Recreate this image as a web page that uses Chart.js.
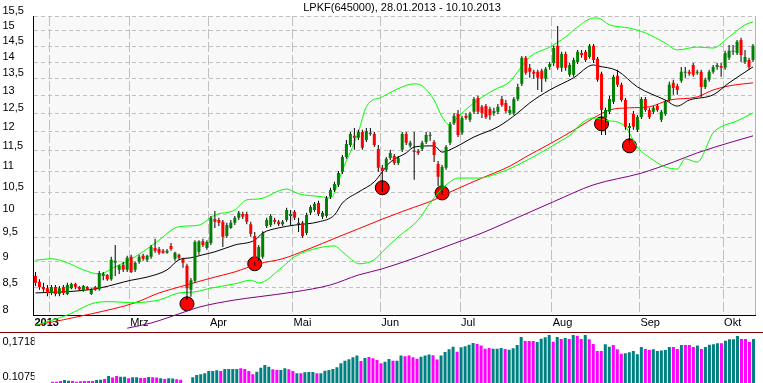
<!DOCTYPE html>
<html><head><meta charset="utf-8">
<script src="https://cdn.jsdelivr.net/npm/chart.js@4.4.0/dist/chart.umd.min.js"></script>
<style>
html,body{margin:0;padding:0;background:#fff;}
#wrap{position:relative;width:763px;height:383px;overflow:hidden;background:#fff;}
#pc{position:absolute;left:0;top:0;}
#vsep{position:absolute;left:0;top:332px;width:763px;height:1px;background:#800000;}
#vc{position:absolute;left:0;top:333px;}
#title{position:absolute;left:0;top:1px;width:804px;text-align:center;font:11px "Liberation Sans",Arial,sans-serif;color:#000;white-space:nowrap;}
</style></head>
<body><div id="wrap">
<canvas id="pc" width="763" height="332"></canvas>
<div id="vsep"></div>
<canvas id="vc" width="763" height="50"></canvas>
<div id="title">LPKF(645000), 28.01.2013 - 10.10.2013</div>
</div>
<script>
// ---- categories / ticks ----
const monthStart = [0, 4, 24, 44, 65, 87, 107, 130, 152, 173];
const monthLabels = ['2013', '', 'Mrz', 'Apr', 'Mai', 'Jun', 'Jul', 'Aug', 'Sep', 'Okt'];
const priceTicks = [8, 8.5, 9, 9.5, 10, 10.5, 11, 11.5, 12, 12.5, 13, 13.5, 14, 14.5, 15, 15.5];
const volTicks = [0.1075, 0.1718];
const volTickLabels = ['0.1075', '0,1718'];

// ---- candles (trading days 28.01.2013 - 10.10.2013) ----
const opens = [
8.72,8.61,8.51,8.49,8.40,8.51,8.38,8.51,8.38,8.49,
8.57,8.51,8.44,8.51,8.38,8.51,8.47,8.72,8.74,8.66,
8.98,8.84,8.94,8.84,9.10,8.84,9.00,9.12,9.04,9.10,
9.28,9.26,9.22,9.18,9.32,9.06,9.14,9.06,8.92,8.46,
8.63,9.20,9.42,9.28,9.38,9.89,9.87,9.83,9.53,9.70,
9.81,9.92,10.00,10.00,9.78,9.53,9.08,9.10,9.74,9.76,
9.87,9.83,9.78,9.87,9.96,10.05,9.78,9.81,9.59,10.03,
10.09,10.25,9.94,9.96,10.39,10.55,10.67,10.98,11.35,11.65,
11.89,11.84,11.99,11.78,11.94,11.94,11.55,11.08,11.03,11.32,
11.37,11.20,11.53,11.94,11.63,11.50,11.50,11.55,11.73,11.89,
11.73,11.17,10.55,11.08,11.71,12.23,12.48,11.97,12.43,12.32,
12.54,12.93,12.68,12.70,12.62,12.51,12.54,12.90,12.79,12.51,
12.51,12.90,13.34,14.13,13.82,13.70,13.70,13.73,13.49,13.85,
13.97,14.51,13.82,14.25,13.61,13.61,14.00,14.28,14.32,14.16,
14.51,14.10,13.64,12.37,12.54,12.82,13.58,13.31,12.87,12.10,
12.48,12.05,12.40,12.90,12.59,12.54,12.70,12.32,12.48,12.87,
13.37,13.28,13.43,13.67,13.70,13.91,13.67,13.70,13.25,13.46,
13.70,13.85,13.88,13.82,14.13,14.32,14.28,14.70,14.00,14.06,
14.06];
const highs = [
8.80,8.66,8.59,8.55,8.55,8.55,8.53,8.55,8.59,8.59,
8.59,8.53,8.55,8.53,8.49,8.53,8.82,8.80,8.76,9.10,
9.34,8.94,9.00,9.12,9.14,9.00,9.14,9.16,9.14,9.34,
9.47,9.30,9.26,9.26,9.38,9.20,9.16,9.08,8.96,8.68,
9.44,9.44,9.47,9.44,9.96,10.07,9.92,9.87,9.81,9.87,
9.96,10.07,10.05,10.05,9.83,9.61,9.34,9.63,9.92,10.00,
9.92,9.87,9.87,10.14,10.09,10.09,9.92,9.85,10.03,10.20,
10.27,10.30,10.07,10.41,10.60,10.74,11.00,11.40,11.78,11.99,
12.10,12.05,12.05,12.10,12.10,11.99,11.65,11.15,11.35,11.53,
11.42,11.37,11.99,11.99,11.76,11.99,11.55,11.76,11.99,11.99,
11.78,11.25,11.15,11.65,12.26,12.51,12.59,12.43,12.51,12.54,
12.96,12.99,12.73,12.76,12.68,12.65,12.76,12.99,12.87,12.70,
12.96,13.34,14.19,14.19,13.94,13.76,13.76,13.79,13.85,14.00,
14.51,15.16,14.32,14.32,13.97,14.13,14.38,14.38,14.38,14.57,
14.57,14.16,13.70,12.65,12.99,13.61,13.76,13.37,12.93,12.23,
12.56,12.45,12.96,12.96,12.65,12.70,12.76,12.59,12.87,13.40,
13.46,13.34,13.85,13.85,13.76,13.97,13.76,13.76,13.52,13.76,
13.91,13.97,13.97,14.35,14.54,14.54,14.70,14.77,14.38,14.13,
14.57];
const lows = [
8.53,8.46,8.42,8.34,8.36,8.34,8.34,8.36,8.36,8.47,
8.47,8.44,8.42,8.46,8.36,8.44,8.44,8.64,8.63,8.63,
8.72,8.76,8.80,8.80,8.78,8.80,8.96,9.02,9.00,9.06,
9.18,9.14,9.16,9.16,9.22,9.02,9.04,8.88,8.27,8.33,
8.59,9.14,9.30,9.24,9.34,9.70,9.74,9.30,9.49,9.68,
9.76,9.87,9.89,9.78,9.51,8.92,9.02,9.06,9.70,9.72,
9.78,9.74,9.74,9.83,9.76,9.87,9.61,9.49,9.55,9.98,
10.05,9.96,9.89,9.92,10.34,10.50,10.62,10.93,11.30,11.60,
11.53,11.78,11.53,11.73,11.89,11.60,10.98,10.50,10.98,11.27,
11.15,11.15,11.47,11.65,11.58,10.79,11.40,11.50,11.68,11.76,
11.22,10.64,10.43,11.03,11.65,12.18,11.86,11.91,12.32,12.26,
12.48,12.48,12.37,12.34,12.32,12.43,12.48,12.68,12.51,12.45,
12.45,12.84,13.28,13.61,13.52,13.49,13.16,13.10,13.40,13.76,
13.88,13.76,13.70,13.73,13.55,13.55,13.94,14.13,14.00,14.10,
13.97,13.40,11.91,11.91,12.48,12.76,13.25,12.82,12.05,11.65,
12.05,11.99,12.34,12.54,12.34,12.48,12.54,12.26,12.43,12.82,
13.02,13.02,13.37,13.52,13.58,13.55,13.61,12.96,13.19,13.40,
13.64,13.76,13.55,13.76,14.06,14.22,14.22,14.00,13.94,13.76,
14.00];
const closes = [
8.59,8.51,8.47,8.40,8.51,8.38,8.49,8.40,8.55,8.57,
8.51,8.47,8.53,8.47,8.46,8.46,8.78,8.76,8.66,9.04,
9.02,8.92,8.84,9.08,8.80,8.98,9.10,9.06,9.12,9.30,
9.22,9.18,9.18,9.22,9.26,9.18,9.08,8.98,8.49,8.64,
9.40,9.42,9.34,9.40,9.92,9.83,9.81,9.51,9.76,9.81,
9.92,10.03,9.94,9.83,9.57,9.00,9.30,9.59,9.87,9.96,
9.83,9.78,9.83,10.09,10.00,9.92,9.81,9.53,9.98,10.16,
10.23,10.00,10.03,10.36,10.55,10.69,10.95,11.35,11.68,11.94,
11.84,11.99,11.58,12.02,11.97,11.65,11.08,11.00,11.30,11.45,
11.20,11.32,11.94,11.71,11.71,11.47,11.45,11.71,11.91,11.91,
11.40,10.86,11.10,11.60,12.18,12.43,11.91,12.37,12.37,12.48,
12.90,12.54,12.51,12.40,12.45,12.56,12.68,12.73,12.56,12.59,
12.90,13.25,14.13,13.67,13.70,13.64,13.52,13.49,13.79,13.94,
14.44,13.82,14.25,13.82,13.91,14.06,14.32,14.22,14.06,14.51,
14.06,13.46,12.59,12.59,12.90,13.55,13.31,12.87,12.13,12.15,
12.13,12.40,12.90,12.59,12.40,12.65,12.59,12.54,12.82,13.31,
13.22,13.16,13.70,13.70,13.64,13.61,13.70,13.25,13.46,13.70,
13.85,13.91,13.82,14.28,14.35,14.35,14.64,14.22,14.16,13.85,
14.51];

// ---- indicator lines (read at sampled trading-day indices) ----
const maIdx = [0,11,16,24,28,33,36,39,42,45,50,55,57,61,65,71,75,77,81,85,87,89,93,95,100,102,105,110,116,121,124,129,135,140,141,146,151,158,161,164,170,174,180];
const maVal = [8.40,8.44,8.49,8.64,8.70,8.84,9.04,9.08,9.14,9.20,9.34,9.44,9.59,9.70,9.76,9.83,9.98,10.25,10.50,10.74,10.98,11.22,11.45,11.60,11.63,11.47,11.58,11.86,12.13,12.51,12.79,13.16,13.52,13.91,13.88,13.73,13.25,12.87,12.70,12.87,13.02,13.37,13.85];
const upIdx = [0,4,8,12,16,20,25,31,35,38,41,45,50,53,56,63,66,72,74,76,77,79,81,83,87,92,95,97,100,102,104,106,110,115,119,120,124,129,133,136,140,141,144,149,153,158,161,166,170,174,178,180];
const upVal = [9.03,9.06,8.98,8.84,8.76,8.90,9.10,9.44,9.70,9.74,9.76,9.98,10.09,10.32,10.34,10.57,10.46,10.39,10.36,10.74,11.03,11.47,11.99,12.68,12.96,13.25,13.34,13.28,12.87,12.40,12.18,12.40,12.79,13.16,13.40,13.55,14.16,14.47,14.80,15.13,15.43,15.43,15.20,15.09,14.93,14.60,14.38,14.47,14.44,14.80,15.20,15.30];
const loIdx = [0,8,15,19,24,31,36,40,44,50,54,56,62,65,71,75,77,80,81,85,87,91,96,99,101,104,106,111,117,122,127,131,135,136,140,144,146,148,151,155,158,161,163,166,170,172,176,180];
const loVal = [7.82,8.00,8.22,8.24,8.22,8.27,8.40,8.42,8.49,8.57,8.64,8.59,8.90,9.10,9.28,9.32,9.20,9.00,8.96,9.04,9.20,9.51,9.87,10.25,10.48,10.74,10.83,10.83,10.98,11.20,11.47,11.71,11.99,12.13,12.37,12.29,12.26,12.13,11.60,11.27,11.10,11.05,11.30,11.22,11.97,12.13,12.29,12.51];
const ma50Idx = [0,14,25,31,36,44,50,56,62,68,76,81,87,93,100,104,112,119,123,129,136,140,144,149,154,159,166,170,174,180];
const ma50Val = [7.82,8.02,8.22,8.40,8.51,8.68,8.80,8.96,9.06,9.24,9.51,9.68,9.89,10.09,10.32,10.50,10.83,11.12,11.35,11.68,12.10,12.37,12.59,12.65,12.68,12.87,12.96,13.16,13.28,13.37];
const ma200Idx = [23,29,36,41,50,56,65,74,81,87,96,104,112,119,130,140,152,160,166,175,180];
const ma200Val = [7.77,7.86,8.02,8.14,8.27,8.33,8.42,8.55,8.74,8.86,9.10,9.34,9.59,9.85,10.28,10.67,10.95,11.22,11.45,11.74,11.89];

// ---- signal circles ----
const sigIdx = [38, 55, 87, 102, 142, 149];
const sigVal = [8.20, 8.96, 10.60, 10.48, 12.21, 11.63];

// ---- lower panel indicator ----
const volVals = [
null,null,null,null,0.1100,0.1100,0.1112,0.1130,0.1118,0.1112,
0.1100,0.1106,0.1112,0.1112,0.1112,0.1130,0.1136,0.1149,0.1203,0.1173,
0.1203,0.1191,0.1191,0.1161,0.1179,0.1179,0.1167,0.1167,0.1185,0.1179,
0.1173,0.1161,0.1149,0.1161,0.1155,0.1143,0.1136,null,null,0.1179,
0.1221,0.1234,0.1252,0.1294,0.1294,0.1306,0.1294,0.1331,0.1331,0.1331,
0.1331,0.1343,0.1331,0.1294,0.1234,0.1282,0.1355,0.1404,0.1373,0.1325,
0.1313,0.1313,0.1343,0.1325,0.1294,0.1252,0.1252,0.1270,0.1276,0.1276,
0.1252,0.1252,0.1300,0.1313,0.1331,0.1361,0.1434,0.1482,0.1507,0.1543,
0.1574,0.1476,0.1531,0.1549,0.1525,0.1495,0.1434,0.1464,0.1513,0.1482,
0.1482,0.1574,0.1561,0.1574,0.1543,0.1519,0.1555,0.1574,0.1592,0.1580,
0.1501,0.1574,0.1640,0.1689,0.1737,0.1646,0.1725,0.1743,0.1774,0.1804,
0.1786,0.1756,0.1701,0.1713,0.1701,0.1701,0.1713,0.1695,0.1683,0.1707,
0.1768,0.1913,0.1841,0.1841,0.1841,0.1822,0.1883,0.1907,0.1950,0.1828,
0.1913,0.1877,0.1895,0.1877,0.1950,0.1938,0.1877,0.1950,0.1871,0.1786,
0.1659,0.1659,0.1780,0.1737,0.1768,0.1689,0.1610,0.1616,0.1634,0.1659,
0.1598,0.1731,0.1695,0.1677,0.1689,0.1659,0.1665,0.1677,0.1731,0.1731,
0.1695,0.1768,0.1768,0.1768,0.1731,0.1756,0.1695,0.1731,0.1774,0.1780,
0.1798,0.1798,0.1847,0.1871,0.1871,0.1932,0.1877,0.1877,0.1822,0.1877,
null];
const volUp = [
0,0,0,0,0,0,0,1,1,0,
0,0,0,0,0,1,1,0,1,0,
0,1,1,0,1,1,0,0,1,0,
0,1,0,1,1,0,0,0,0,1,
1,1,1,1,1,1,0,1,1,1,
1,0,0,0,0,1,1,1,1,0,
0,1,1,0,0,1,0,1,1,1,
0,1,1,1,1,1,1,1,1,1,
1,0,1,0,0,0,0,1,1,0,
1,1,0,0,0,0,1,1,1,0,
0,1,1,1,1,0,1,1,1,1,
0,0,0,0,1,1,1,0,1,1,
1,1,0,0,0,1,1,1,1,0,
1,0,1,0,1,0,0,1,0,0,
0,0,1,1,0,0,0,1,1,1,
1,1,0,0,1,1,1,1,1,0,
0,1,0,0,0,1,0,1,1,1,
1,0,1,1,1,1,0,0,0,1,
0];

// ---- build ----
Chart.defaults.font.family = "'Liberation Sans', Arial, sans-serif";
Chart.defaults.font.size = 11;
Chart.defaults.color = '#000';

const N = closes.length;
const bodyData = opens.map((o, i) => ({x: i, y: [o, closes[i]]}));
const wickData = lows.map((l, i) => ({x: i, y: [l, highs[i]]}));
const bodyColors = opens.map((o, i) => closes[i] >= o ? '#008000' : '#ff0000');
const pts = (idx, vals) => idx.map((x, k) => ({x: x, y: vals[k]}));
const lineDs = (data, color, order) => ({
  type: 'line', data: data, borderColor: color, borderWidth: 1, pointRadius: 0,
  pointHoverRadius: 0, cubicInterpolationMode: 'monotone', order: order,
  clip: {left: 0, top: 0, right: 0, bottom: 16}
});

const plotBg = {
  id: 'plotBg',
  beforeDraw(c) {
    const a = c.chartArea, ctx = c.ctx;
    ctx.save();
    ctx.fillStyle = '#f8f8f8';
    ctx.fillRect(a.left, a.top, a.right - a.left, a.bottom - a.top);
    ctx.restore();
  },
  afterDraw(c) {
    const a = c.chartArea, ctx = c.ctx;
    ctx.save();
    ctx.strokeStyle = '#b4b4b4';
    ctx.lineWidth = 1;
    ctx.beginPath();
    const x = Math.floor(a.right) + 0.5;
    ctx.moveTo(x, a.top);
    ctx.lineTo(x, a.bottom);
    ctx.stroke();
    ctx.restore();
  }
};

new Chart(document.getElementById('pc'), {
  type: 'bar',
  data: {
    datasets: [
      {type: 'bar', data: bodyData, backgroundColor: bodyColors, barThickness: 3, borderWidth: 0,
       grouped: false, minBarLength: 1, inflateAmount: 0, order: 0},
      {type: 'bar', data: wickData, backgroundColor: '#000000', barThickness: 1, borderWidth: 0,
       grouped: false, minBarLength: 1, inflateAmount: 0, order: 1},
      lineDs(pts(maIdx, maVal), '#000000', 2),
      lineDs(pts(upIdx, upVal), '#00ff00', 3),
      lineDs(pts(loIdx, loVal), '#00ff00', 4),
      lineDs(pts(ma50Idx, ma50Val), '#ff0000', 5),
      lineDs(pts(ma200Idx, ma200Val), '#800080', 6),
      {type: 'line', data: pts(sigIdx, sigVal), showLine: false, pointRadius: 7, pointHoverRadius: 7,
       pointBackgroundColor: '#ff0000', pointBorderColor: '#000000', pointBorderWidth: 1,
       clip: false, order: 9}
    ]
  },
  options: {
    responsive: false, animation: false, maintainAspectRatio: false,
    events: [],
    layout: {padding: {left: 2.5, right: 4.5, top: 16, bottom: 0}},
    plugins: {legend: {display: false}, tooltip: {enabled: false}, title: {display: false}},
    scales: {
      x: {
        type: 'linear', min: -0.5, max: N - 0.5, offset: false,
        afterBuildTicks: s => { s.ticks = monthStart.map(v => ({value: v - 0.5})); },
        afterFit: s => { s.height = 17; s.paddingLeft = 0; s.paddingRight = 0; },
        ticks: {
          autoSkip: false, maxRotation: 0, minRotation: 0, align: 'start', padding: 1, labelOffset: 1,
          callback: (v, i) => monthLabels[i],
          font: ctx => (ctx.index === 0 ? {weight: 'bold', size: 11} : {size: 11})
        },
        grid: {color: '#c0c0c0', lineWidth: 1, drawTicks: false, offset: false},
        border: {display: true, color: '#000000', width: 1, dash: [10, 3]}
      },
      y: {
        type: 'logarithmic', min: priceTicks[0], max: priceTicks[priceTicks.length - 1],
        afterBuildTicks: s => { s.ticks = priceTicks.map(v => ({value: v})); },
        afterFit: s => { s.width = 31; s.paddingTop = 0; s.paddingBottom = 0; },
        ticks: {
          autoSkip: false, crossAlign: 'far', padding: 0, labelOffset: -5,
          callback: v => String(v).replace('.', ',')
        },
        grid: {color: '#c0c0c0', lineWidth: 1, drawTicks: false},
        border: {display: true, color: '#000000', width: 1, dash: [4, 3]}
      }
    }
  },
  plugins: [plotBg]
});

const volData = [], volColors = [];
volVals.forEach((v, i) => {
  if (v !== null) { volData.push({x: i, y: v}); volColors.push(volUp[i] ? '#008080' : '#ff00ff'); }
});

new Chart(document.getElementById('vc'), {
  type: 'bar',
  data: {datasets: [{data: volData, backgroundColor: volColors, barThickness: 3, borderWidth: 0,
    grouped: false, inflateAmount: 0, base: volTicks[0]}]},
  options: {
    responsive: false, animation: false, maintainAspectRatio: false, events: [],
    layout: {padding: {left: 2.5, right: 3.5, top: 0, bottom: 0}},
    plugins: {legend: {display: false}, tooltip: {enabled: false}},
    scales: {
      x: {type: 'linear', min: -0.5, max: N - 0.5, display: false, offset: false, grid: {offset: false}},
      y: {
        type: 'linear', min: volTicks[0], max: 0.1986,
        afterBuildTicks: s => { s.ticks = volTicks.map(v => ({value: v})); },
        afterFit: s => { s.width = 32; s.paddingTop = 0; s.paddingBottom = 0; },
        ticks: {autoSkip: false, crossAlign: 'far', padding: 0, labelOffset: -6,
          callback: (v, i) => volTickLabels[i]},
        grid: {display: false},
        border: {display: false}
      }
    }
  }
});
</script>
</body></html>
